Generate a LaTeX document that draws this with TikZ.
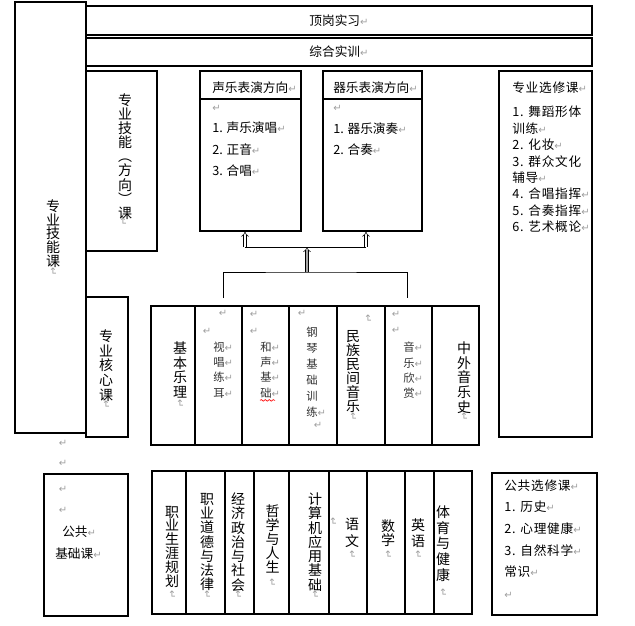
\documentclass[tikz,border=0pt]{standalone}
\usepackage{fontspec}
\usepackage{tikz}
\usetikzlibrary{positioning,arrows.meta,fit,decorations.pathmorphing}
\newfontfamily\cjk{Noto Sans CJK SC}
\newfontfamily\cjkwide[LetterSpace=6]{Noto Sans CJK SC}
\newfontfamily\retfont{DejaVu Sans}
\newcommand\pmark{{\retfont\fontsize{7.5}{7.5}\selectfont\textcolor{gray!75}{↵}}}
\tikzset{
  boxf/.style={draw=black, line width=0.9pt, inner sep=0pt},
  hd/.style={font=\cjk\fontsize{9.5}{12}\selectfont, inner sep=0pt, anchor=west},
  lst/.style={font=\cjk\fontsize{9.5}{#1}\selectfont, align=left, inner sep=0pt, anchor=west},
  lstw/.style={font=\cjkwide\fontsize{9.5}{#1}\selectfont, align=left, inner sep=0pt, anchor=west},
  vcol/.style={font=\cjk\fontsize{10.5}{#1}\selectfont, align=center, inner sep=0pt},
  vsmall/.style={font=\cjk\fontsize{8.5}{#1}\selectfont, text=black!80, align=left, inner sep=0pt, anchor=west},
  ret/.style={font=\retfont\fontsize{7.5}{7.5}\selectfont, text=gray!75, inner sep=0pt},
  vret/.style={ret, rotate=-90},
  link/.style={draw=black, line width=0.7pt},
  uparr/.style={draw=black, line width=0.4pt, double=white, double distance=1.6pt, -{Implies}},
}
\begin{document}
\begin{tikzpicture}[x=0.75pt, y=-0.75pt]
\useasboundingbox (0,0) rectangle (635,625);
\node[boxf, fit={(15,2) (86,433)}] (skill) {};
\node[boxf, fit={(86,6) (592,35)}] (intern) {};
\node[boxf, fit={(86,38) (592,66)}] (train) {};
\node[boxf, fit={(86,71) (157,251)}] (dir) {};
\node[boxf, fit={(200,71) (301,231)}] (vocal) {};
\node[boxf, fit={(323,71) (422,231)}] (instr) {};
\node[boxf, fit={(499,71) (592,437)}] (elect) {};
\node[boxf, fit={(86,297) (128,437)}] (corelbl) {};
\node[boxf, fit={(151,306) (479,445)}] (core) {};
\node[boxf, fit={(44,474) (128,616)}] (publbl) {};
\node[boxf, fit={(152,471) (472,614)}] (pub) {};
\node[boxf, fit={(492,473) (597,615)}] (pubel) {};
\draw[boxf] (vocal.west |- 0,99) -- (vocal.east |- 0,99);
\draw[boxf] (instr.west |- 0,99) -- (instr.east |- 0,99);
\foreach \x in {195,242,289,337,385,432}
  \draw[boxf] (core.north -| \x,0) -- (core.south -| \x,0);
\foreach \x in {186,225,254,289,329,367,405,434}
  \draw[boxf] (pub.north -| \x,0) -- (pub.south -| \x,0);

\node[font=\cjk\fontsize{9.5}{12}\selectfont] (internT) at (intern.center) {顶岗实习\pmark};
\node[font=\cjk\fontsize{9.5}{12}\selectfont] (trainT) at (train.center) {综合实训\pmark};

\node[vcol=10.3] (skillT) at (53,233.5) {专\\业\\技\\能\\课};
\node[vret] at (53,272) {↵};
\node[vcol=10.6] (dirT) at (125,156.5) {专\\业\\技\\能\\︵\\方\\向\\︶\\课};
\node[vret] at (123,222) {↵};

\node[hd] (vocalH) at (212,88) {声乐表演方向\pmark};
\node[lst=16] (vocalL) at (212,141) {\pmark\\1. 声乐演唱\pmark\\2. 正音\pmark\\3. 合唱\pmark};
\node[hd] (instrH) at (333,88) {器乐表演方向\pmark};
\node[lst=16] (instrL) at (333,130.5) {\pmark\\1. 器乐演奏\pmark\\2. 合奏\pmark};
\node[lstw=12] (electH) at (512,88) {专业选修课\pmark};
\node[lstw=12.3] (electL) at (512,169.5) {1. 舞蹈形体\\训练\pmark\\2. 化妆\pmark\\3. 群众文化\\辅导\pmark\\4. 合唱指挥\pmark\\5. 合奏指挥\pmark\\6. 艺术概论\pmark};

\coordinate (busL) at (223,298);
\coordinate (busR) at (407,298);
\coordinate (bus) at (307,272);
\coordinate (fork) at (307,247);
\coordinate (forkL) at (245,247);
\coordinate (forkR) at (366,247);
\draw[link] (busL) |- (bus) -| (busR);
\draw[uparr, double=gray!70] (bus) -- (fork);
\draw[link] (forkL) -- (forkR);
\draw[uparr] (forkL) -- (vocal.south -| forkL);
\draw[uparr] (forkR) -- (instr.south -| forkR);

\node[vcol=11] (coreT) at (106,365.5) {专\\业\\核\\心\\课};
\node[vret] at (106,405) {↵};
\node[vcol=10.9] (c1) at (180,370) {基\\本\\乐\\理};
\node[vret] at (180,404) {↵};
\node[ret] at (223,313) {↵};
\node[ret] at (207,331) {↵};
\node[vsmall=11.5] (c2) at (213,370) {视\pmark\\唱\pmark\\练\pmark\\耳\pmark};
\node[ret] at (254,314) {↵};
\node[ret] at (254,331) {↵};
\node[vsmall=11.5] (c3) at (260,370) {和\pmark\\声\pmark\\基\pmark\\础\pmark};
\draw[red, line width=0.5pt, decorate, decoration={snake, amplitude=0.6pt, segment length=3pt}] (c3.south west) ++(0,2) -- ++(15,0);
\node[ret] at (302,313) {↵};
\node[vsmall=12] (c4) at (306,372) {钢\\琴\\基\\础\\训\\练\pmark};
\node[ret] at (318,425) {↵};
\node[vret] at (368,319) {↵};
\node[vcol=10.6] (c5) at (353,371.5) {民\\族\\民\\间\\音\\乐};
\node[vret] at (353,417) {↵};
\node[ret] at (396,314) {↵};
\node[ret] at (396,330) {↵};
\node[vsmall=11.5] (c6) at (403,370.5) {音\pmark\\乐\pmark\\欣\pmark\\赏\pmark};
\node[vcol=11] (c7) at (464,377.5) {中\\外\\音\\乐\\史};
\node[vret] at (464,417) {↵};

\node[ret] at (63,443) {↵};
\node[ret] at (63,463) {↵};
\node[ret] at (63,489) {↵};
\node[ret] at (63,510) {↵};
\node[hd] (pubT1) at (62,532) {公共\pmark};
\node[hd] (pubT2) at (55,554) {基础课\pmark};

\node[vcol=10.35] (p1) at (172,546.5) {职\\业\\生\\涯\\规\\划};
\node[vret] at (172,595) {↵};
\node[vcol=10.7] (p2) at (207,542) {职\\业\\道\\德\\与\\法\\律};
\node[vret] at (207,595) {↵};
\node[vcol=10.7] (p3) at (238,542) {经\\济\\政\\治\\与\\社\\会};
\node[vret] at (238,595) {↵};
\node[vcol=10.5] (p4) at (272.5,539) {哲\\学\\与\\人\\生};
\node[vret] at (272,583) {↵};
\node[vcol=10.7] (p5) at (315,542) {计\\算\\机\\应\\用\\基\\础};
\node[vret] at (315,595) {↵};
\node[vret] at (333,522) {↵};
\node[vcol=12.7] (p6) at (352,532.5) {语\\文};
\node[vret] at (352,555) {↵};
\node[vcol=10.5] (p7) at (388,533) {数\\学};
\node[vret] at (388,555) {↵};
\node[vcol=12] (p8) at (418,533) {英\\语};
\node[vret] at (418,555) {↵};
\node[vcol=11.8] (p9) at (443,543.5) {体\\育\\与\\健\\康};
\node[vret] at (443,593) {↵};

\node[lstw=16.2] (pubelL) at (504,539) {公共选修课\pmark\\1. 历史\pmark\\2. 心理健康\pmark\\3. 自然科学\pmark\\常识\pmark\\\pmark};
\end{tikzpicture}
\end{document}
